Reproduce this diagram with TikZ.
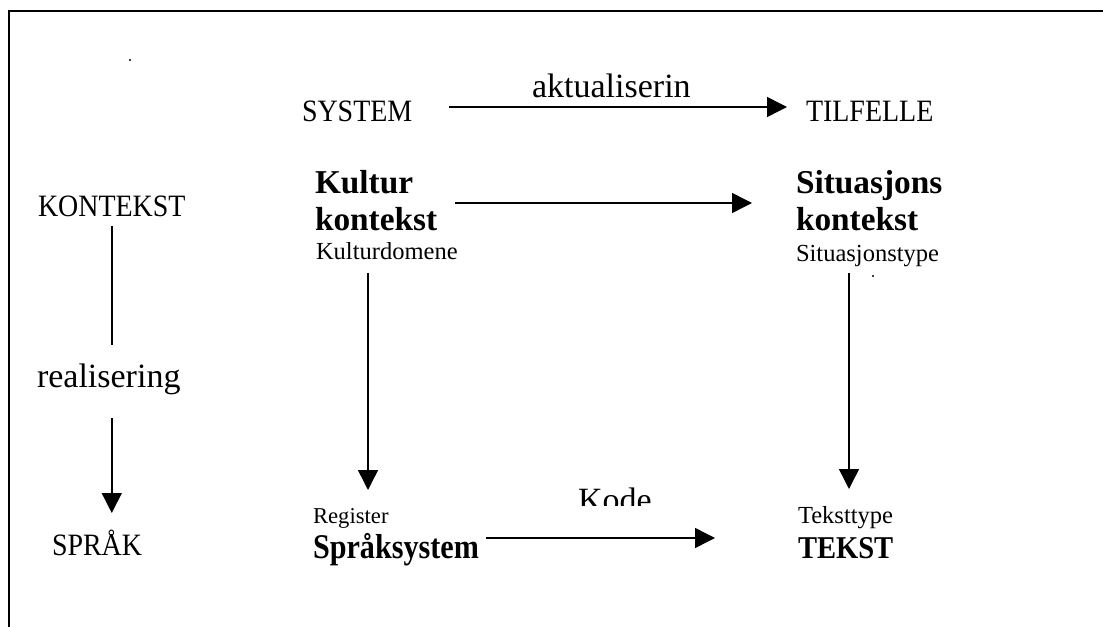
\documentclass[tikz,border=0pt]{standalone}
\usepackage{fontspec}
\setmainfont{Liberation Serif}
\newfontfamily\narrowserif{Liberation Serif}[FakeStretch=0.9]
\newfontfamily\tightserif{Liberation Serif}[FakeStretch=0.87]
\usetikzlibrary{arrows.meta,calc}

% font helpers
\newcommand{\fs}[1]{\fontsize{#1}{#1}\selectfont}

\tikzset{
  txt/.style={inner sep=0pt, outer sep=0pt, anchor=base west},
  caps/.style={txt, font=\narrowserif\fs{23.3}},
  word/.style={txt, font=\fs{25.5}},
  head/.style={txt, font=\bfseries\fs{25}},
  small/.style={txt, font=\fs{18.4}},
  arr/.style={line width=1.1pt, -{Triangle[length=15pt,width=15pt]}},
  plain/.style={line width=1.1pt},
  frame/.style={line width=1.5pt}
}

\begin{document}
\begin{tikzpicture}[x=0.75pt, y=-0.75pt]
\useasboundingbox (0,0) rectangle (1103,627);

% open frame: top and left edges
\draw[frame] (1103,11) -- (9,11) -- (9,627);

% stray dots
\fill (130,60) circle (1.1);
\fill (873,276) circle (1.1);

% left column
\node[caps] (kontekstL) at (38,217) {KONTEKST};
\node[word] (realisering) at (37,387) {realisering};
\node[caps] (sprak) at (52,555) {SPRÅK};

% top row
\node[caps] (system) at (302,122) {SYSTEM};
\node[caps] (tilfelle) at (806,122) {TILFELLE};

% culture context
\node[head] (kultur) at (315,194) {Kultur};
\node[head] (kulturk) at (315,231) {kontekst};
\node[small] (kulturdomene) at (316,260) {Kulturdomene};

% situation context
\node[head] (situasjons) at (796,194) {Situasjons};
\node[head] (situasjonsk) at (796,231) {kontekst};
\node[small] (situasjonstype) at (796,262) {Situasjonstype};

% language system
\node[txt, font=\fs{17}] (register) at (313,523) {Register};
\node[txt, font=\tightserif\bfseries\fs{26}] (spraksystem) at (313,558) {Språksystem};

% text
\node[small] (teksttype) at (798,523) {Teksttype};
\node[txt, font=\narrowserif\bfseries\fs{23.8}] (tekst) at (798,558) {TEKST};

% code label, cut off at its lower edge
\begin{scope}
  \clip (540,470) rectangle (700,505);
  \node[word] (kode) at (578,511) {Kode};
\end{scope}

% realisation on the left
\draw[plain] ($(kontekstL.base)+(0,9)$) -- ($(kontekstL.base |- realisering.base)+(0,-42)$);
\draw[arr] ($(kontekstL.base |- realisering.base)+(0,31)$) -- ($(kontekstL.base |- sprak.base)+(0,-42)$);

% actualisation
\draw[arr] ($(system.base east)+(37,-15)$) --
  node[pos=0.48, anchor=base, inner sep=0pt, yshift=6.75pt, font=\fs{25.5}] (akt) {aktualiserin}
  ($(tilfelle.base west)+(-19,-15)$);

\draw[arr] ($(kulturk.base east)+(18,-28)$) -- ($(situasjonsk.base west)+(-44,-28)$);
\draw[arr] ($(spraksystem.base east)+(7,-20)$) -- ($(tekst.base west)+(-83,-20)$);

% vertical realisation arrows
\draw[arr] ($(kulturdomene.base west)+(52,13)$) -- ($(kulturdomene.base west |- register.base)+(52,-33)$);
\draw[arr] ($(situasjonstype.base west)+(53,11)$) -- ($(situasjonstype.base west |- teksttype.base)+(53,-34)$);
\end{tikzpicture}
\end{document}
